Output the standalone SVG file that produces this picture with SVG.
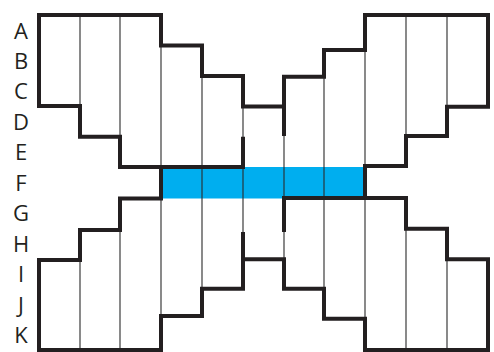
<svg xmlns="http://www.w3.org/2000/svg" width="494" height="352" viewBox="0 0 494 352">
<style>
.lbl{font-family:"Open Sans","Liberation Sans",sans-serif;font-size:22px;fill:#231f20;text-anchor:middle}
.thin{fill:none;stroke:#2a2a2a;stroke-width:1.1}
.thick{fill:none;stroke:#231f20;stroke-width:4;stroke-linejoin:miter;stroke-linecap:butt}
</style>
<rect width="494" height="352" fill="#ffffff"/>
<g id="labels">
<text class="lbl" x="21" y="38.5">A</text>
<text class="lbl" x="21" y="69">B</text>
<text class="lbl" x="21" y="99">C</text>
<text class="lbl" x="21" y="129.5">D</text>
<text class="lbl" x="21" y="160">E</text>
<text class="lbl" x="21" y="190.5">F</text>
<text class="lbl" x="21" y="221">G</text>
<text class="lbl" x="21" y="251.5">H</text>
<text class="lbl" x="21" y="282">I</text>
<text class="lbl" x="21" y="312.5">J</text>
<text class="lbl" x="21" y="343">K</text>
</g>
<g id="highlight">
<rect x="161" y="167" width="204" height="31.5" fill="#00aeef"/>
</g>
<g id="grid">
<path class="thin" d="M80,15V106M80,260V350M120,15V137M120,230V350M161,45.5V167M161,198V316M202,76V288.7M243,106.5V137M243,167V232M284,136V259M324,76.7V288.7M365,50V166M365,198V318.7M406,15V136M406,228.7V350M447,15V106.7M447,259V350"/>
</g>
<g id="outlines">
<path id="upper-left" class="thick" d="M243,136.7V167H120V136.7H80V106H39V15H161V45.5H202V76H243V106.5H284"/>
<path id="upper-right" class="thick" d="M284,136V76.7H324V50H365V15H488V106.7H447V136H406V166H365V198"/>
<path id="lower-right" class="thick" d="M284,232V198H406V228.7H447V259.3H488V350H365V318.7H324V288.7H284V259.3H243"/>
<path id="lower-left" class="thick" d="M243,232V288.7H202V316H161V350H39V260H80V230H120V198.5H161V167"/>
</g>
</svg>
